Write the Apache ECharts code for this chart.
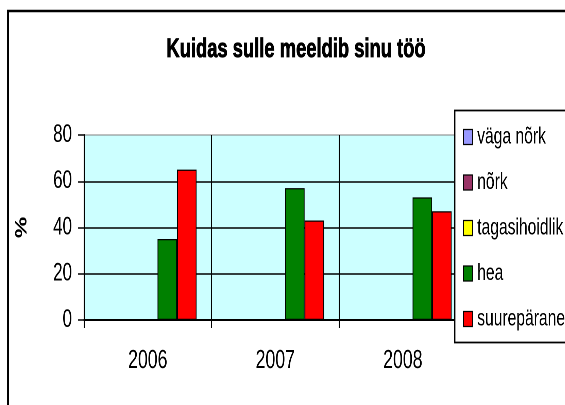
<!DOCTYPE html>
<html>
<head>
<meta charset="utf-8">
<script src="https://cdn.jsdelivr.net/npm/echarts@6/dist/echarts.min.js"></script>
<style>
html,body{margin:0;padding:0;background:#fff;overflow:hidden;width:565px;height:405px;}
#wrap{width:565px;height:405px;overflow:hidden;position:relative;}
#c{width:831px;height:405px;transform:scaleX(0.68);transform-origin:0 0;position:absolute;left:0;top:0;}
</style>
</head>
<body>
<div id="wrap"><div id="c"></div></div>
<script>
var titleText = 'Kuidas sulle meeldib sinu töö';
var years = ['2006', '2007', '2008'];
var seriesNames = ['väga nõrk', 'nõrk', 'tagasihoidlik', 'hea', 'suurepärane'];
var vagaNork = [0, 0, 0];
var nork = [0, 0, 0];
var tagasihoidlik = [0, 0, 0];
var hea = [35, 57, 53];
var suureparane = [65, 43, 47];
var yTicks = [0, 20, 40, 60, 80];
var colors = ['#9999FF', '#993366', '#FFFF00', '#008000', '#FF0000'];

// The reference is a horizontally squeezed chart: draw it wider, then squeeze.
var SX = 0.68;
function X(px) { return px / SX; }

var FONT = '"Liberation Sans", Arial, sans-serif';
var values = [vagaNork, nork, tagasihoidlik, hea, suureparane];

var chart = echarts.init(document.getElementById('c'), null, {renderer: 'canvas', devicePixelRatio: 2});
var series = seriesNames.map(function (n, i) {
  return {
    name: n,
    type: 'bar',
    data: values[i],
    barGap: '0%',
    barCategoryGap: '23.5%',
    itemStyle: {color: colors[i], borderColor: '#000', borderWidth: 1.2},
    emphasis: {disabled: true},
    animation: false
  };
});

chart.setOption({
  animation: false,
  backgroundColor: '#fff',
  title: {
    text: titleText,
    left: X(296),
    textAlign: 'center',
    top: 36,
    padding: 0,
    textStyle: {fontFamily: FONT, fontWeight: 'bold', fontSize: 27, color: '#000',
                textBorderColor: '#000', textBorderWidth: 0.8}
  },
  graphic: [
    {type: 'rect', z: -10, shape: {x: X(8), y: 11, width: X(700), height: 460},
     style: {fill: '#fff', stroke: '#000', lineWidth: 2.5}},
    {type: 'rect', z: 3, shape: {x: X(454.8), y: 110.5, width: X(200), height: 232},
     style: {fill: '#fff', stroke: '#000', lineWidth: 1.8}}
  ],
  legend: {
    orient: 'vertical',
    left: X(463),
    top: 125,
    padding: 0,
    z: 5,
    itemWidth: X(9),
    itemHeight: 15,
    itemGap: 21.5,
    selectedMode: false,
    itemStyle: {borderColor: '#000', borderWidth: 1.3},
    textStyle: {fontFamily: FONT, fontSize: 23, color: '#000', lineHeight: 24, padding: [0, 0, 0, 2]},
    data: seriesNames.map(function (n) { return {name: n, icon: 'rect'}; })
  },
  grid: {
    left: X(84), right: X(98.5), top: 135, bottom: 85,
    show: true, backgroundColor: '#CCFFFF', borderColor: '#808080', borderWidth: 1
  },
  xAxis: {
    type: 'category',
    data: years,
    axisLine: {lineStyle: {color: '#000', width: 2}},
    axisTick: {show: true, length: 8, lineStyle: {color: '#000', width: 1.5}},
    axisLabel: {fontFamily: FONT, fontSize: 26, color: '#000', margin: 28},
    splitLine: {show: true, lineStyle: {color: '#000', width: 1.5}}
  },
  yAxis: {
    type: 'value',
    min: yTicks[0],
    max: yTicks[yTicks.length - 1],
    interval: 20,
    name: '%',
    nameLocation: 'middle',
    nameRotate: 90,
    nameGap: 79,
    nameTextStyle: {fontFamily: FONT, fontWeight: 'bold', fontSize: 24, color: '#000'},
    axisLine: {show: true, lineStyle: {color: '#000', width: 2}},
    axisTick: {show: true, length: X(6), lineStyle: {color: '#000', width: 1.5}},
    axisLabel: {fontFamily: FONT, fontSize: 25, color: '#000', margin: X(12)},
    splitLine: {show: true, showMaxLine: false, lineStyle: {color: '#000', width: 1.5}}
  },
  series: series
});
</script>
</body>
</html>
